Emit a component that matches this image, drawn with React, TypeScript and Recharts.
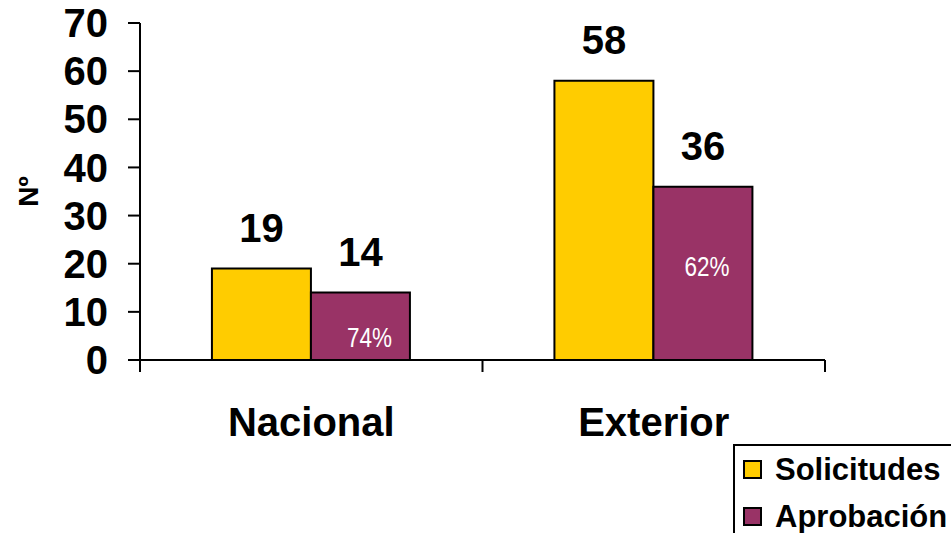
import React from "react";
import {
  BarChart,
  Bar,
  XAxis,
  YAxis,
  LabelList,
  Label,
} from "recharts";

const categories = ["Nacional", "Exterior"];
const solicitudes = [19, 58];
const aprobacion = [14, 36];
const aprobacionPct = ["74%", "62%"];
const yTicks = [0, 10, 20, 30, 40, 50, 60, 70];

const data = categories.map((name, i) => ({
  name,
  solicitudes: solicitudes[i],
  aprobacion: aprobacion[i],
  pct: aprobacionPct[i],
}));

const FONT = "'Liberation Sans', Arial, sans-serif";
const YELLOW = "#FFCC00";
const PURPLE = "#993366";

// small nudges so the % labels sit where they are in the original
const PCT_DX = [9, 4];
const PCT_DY = [12, -6];

const XTick = (props: any) => {
  const { x, y, payload, index, width, visibleTicksCount } = props;
  const band = width / visibleTicksCount;
  const left = x - band / 2;
  const right = x + band / 2;
  return (
    <g>
      <line x1={left} y1={y - 12} x2={left} y2={y} stroke="#000" strokeWidth={2} />
      {index === visibleTicksCount - 1 && (
        <line x1={right} y1={y - 12} x2={right} y2={y} stroke="#000" strokeWidth={2} />
      )}
      <text
        x={x}
        y={y + 64}
        textAnchor="middle"
        fontFamily={FONT}
        fontWeight="bold"
        fontSize={40}
        fill="#000"
      >
        {payload.value}
      </text>
    </g>
  );
};

const PctLabel = (props: any) => {
  const { x, y, width, height, index, value } = props;
  return (
    <text
      x={x + width / 2 + PCT_DX[index]}
      y={y + height / 2 + PCT_DY[index]}
      textAnchor="middle"
      dominantBaseline="central"
      fontFamily={FONT}
      fontSize={27}
      textLength={45}
      lengthAdjust="spacingAndGlyphs"
      fill="#fff"
    >
      {value}
    </text>
  );
};

const ChartLegend = () => {
  const items = [
    { label: "Solicitudes", color: YELLOW },
    { label: "Aprobación", color: PURPLE },
  ];
  return (
    <div
      style={{
        position: "absolute",
        left: 733,
        top: 444,
        border: "2px solid #000",
        background: "#fff",
        width: 240,
        height: 100,
        boxSizing: "border-box",
        paddingLeft: 8,
      }}
    >
      {items.map((it) => (
        <div
          key={it.label}
          style={{ display: "flex", alignItems: "center", height: 47 }}
        >
          <div
            style={{
              width: 15,
              height: 15,
              border: "2px solid #000",
              background: it.color,
              marginRight: 13,
            }}
          />
          <span
            style={{
              fontFamily: FONT,
              fontWeight: "bold",
              fontSize: 31,
              color: "#000",
              whiteSpace: "nowrap",
            }}
          >
            {it.label}
          </span>
        </div>
      ))}
    </div>
  );
};

export default function App() {
  return (
    <div style={{ position: "absolute", left: 0, top: 0, width: 951, height: 533, overflow: "hidden", background: "#fff" }}>
      <BarChart
        width={951}
        height={533}
        data={data}
        margin={{ top: 23, right: 126, left: 0, bottom: 93 }}
        barCategoryGap="21%"
        barGap={0}
      >
        <XAxis
          dataKey="name"
          height={80}
          axisLine={{ stroke: "#000", strokeWidth: 2 }}
          tickLine={false}
          tickSize={12}
          tickMargin={0}
          tick={<XTick />}
          interval={0}
        />
        <YAxis
          width={140}
          domain={[0, 70]}
          ticks={yTicks}
          interval={0}
          axisLine={{ stroke: "#000", strokeWidth: 2 }}
          tickLine={{ stroke: "#000", strokeWidth: 2 }}
          tickSize={12}
          tickMargin={20}
          tick={{ fontFamily: FONT, fontWeight: "bold", fontSize: 40, fill: "#000" }}
        >
          <Label
            content={(p: any) => {
              const vb = p.viewBox;
              const cx = vb.x + 28;
              const cy = vb.y + vb.height / 2;
              return (
                <text
                  x={cx}
                  y={cy}
                  transform={`rotate(-90 ${cx} ${cy})`}
                  textAnchor="middle"
                  dominantBaseline="central"
                  fontFamily={FONT}
                  fontWeight="bold"
                  fontSize={28}
                  fill="#000"
                >
                  Nº
                </text>
              );
            }}
          />
        </YAxis>
        <Bar
          dataKey="solicitudes"
          name="Solicitudes"
          fill={YELLOW}
          stroke="#000"
          strokeWidth={2}
          isAnimationActive={false}
        >
          <LabelList
            dataKey="solicitudes"
            position="top"
            offset={27}
            fontFamily={FONT}
            fontWeight="bold"
            fontSize={40}
            fill="#000"
          />
        </Bar>
        <Bar
          dataKey="aprobacion"
          name="Aprobación"
          fill={PURPLE}
          stroke="#000"
          strokeWidth={2}
          isAnimationActive={false}
        >
          <LabelList
            dataKey="aprobacion"
            position="top"
            offset={27}
            fontFamily={FONT}
            fontWeight="bold"
            fontSize={40}
            fill="#000"
          />
          <LabelList dataKey="pct" content={<PctLabel />} />
        </Bar>
      </BarChart>
      <ChartLegend />
    </div>
  );
}
